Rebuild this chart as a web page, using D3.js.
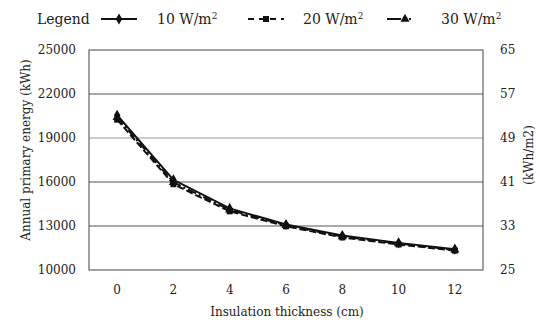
<!DOCTYPE html>
<html><head><meta charset="utf-8">
<script src="https://cdn.jsdelivr.net/npm/d3@7"></script>
<style>body{margin:0;background:#fff}svg{display:block}svg text{font-family:"DejaVu Serif",serif !important;fill:#222}</style>
</head><body><svg id="c" width="540" height="322"></svg>
<script>
const categories = ["0","2","4","6","8","10","12"];
const series10 = [20550, 16150, 14200, 13100, 12350, 11850, 11420];
const series20 = [20250, 15850, 14000, 12980, 12220, 11740, 11320];
const series30 = [20400, 15980, 14100, 13040, 12280, 11800, 11370];
const seriesNames = ["10 W/m", "20 W/m", "30 W/m"];
const leftTicks = [10000, 13000, 16000, 19000, 22000, 25000];
const rightTicks = [25, 33, 41, 49, 57, 65];

const svg = d3.select("#c");
const L = 89, R = 483, T = 50, B = 270;
const x = d3.scaleBand().domain(categories).range([L, R]).paddingInner(0).paddingOuter(0);
const y = d3.scaleLinear().domain([10000, 25000]).range([B, T]);
const y2 = d3.scaleLinear().domain([25, 65]).range([B, T]);

// gridlines
svg.append("g").selectAll("line").data(leftTicks.slice(1, -1)).join("line")
  .attr("x1", L).attr("x2", R).attr("y1", d => y(d)).attr("y2", d => y(d))
  .attr("stroke", d => d === 19000 ? "#999" : "#555").attr("stroke-width", 1);
// frame
svg.append("rect").attr("x", L).attr("y", T).attr("width", R - L).attr("height", B - T)
  .attr("fill", "none").attr("stroke", "#444").attr("stroke-width", 1);

// axes
const ax = svg.append("g").attr("transform", `translate(${L},0)`)
  .call(d3.axisLeft(y).tickValues(leftTicks).tickSize(0).tickPadding(13).tickFormat(d3.format("d")));
ax.select(".domain").remove();
ax.selectAll("text").attr("font-size", 12);
const ax2 = svg.append("g").attr("transform", `translate(${R},0)`)
  .call(d3.axisRight(y2).tickValues(rightTicks).tickSize(0).tickPadding(17));
ax2.select(".domain").remove();
ax2.selectAll("text").attr("font-size", 12);
const axx = svg.append("g").attr("transform", `translate(0,${B})`)
  .call(d3.axisBottom(x).tickSize(0).tickPadding(15));
axx.select(".domain").remove();
axx.selectAll("text").attr("font-size", 12);

// axis titles
svg.append("text").attr("transform", "translate(30,150) rotate(-90)").attr("text-anchor", "middle")
  .attr("font-size", 12).text("Annual primary energy (kWh)");
svg.append("text").attr("transform", "translate(533,155) rotate(-90)").attr("text-anchor", "middle")
  .attr("font-size", 12).text("(kWh/m2)");
svg.append("text").attr("x", 287).attr("y", 316).attr("text-anchor", "middle")
  .attr("font-size", 12).text("Insulation thickness (cm)");

const cx = d => x(d) + x.bandwidth() / 2;
const line = d3.line().x((d, i) => cx(categories[i])).y(d => y(d));
const defs = [
  {data: series10, dash: null, sym: d3.symbolDiamond, size: 36},
  {data: series20, dash: "7,3", sym: d3.symbolSquare, size: 36},
  {data: series30, dash: "9,3,2,3", sym: d3.symbolTriangle, size: 36}
];
defs.forEach(s => {
  svg.append("path").attr("d", line(s.data)).attr("fill", "none").attr("stroke", "#111")
    .attr("stroke-width", 2).attr("stroke-dasharray", s.dash);
  svg.append("g").selectAll("path").data(s.data).join("path")
    .attr("transform", (d, i) => `translate(${cx(categories[i])},${y(d)})`)
    .attr("d", d3.symbol().type(s.sym).size(s.size)).attr("fill", "#111");
});

// legend
const lg = svg.append("g");
lg.append("text").attr("x", 37).attr("y", 24).attr("font-size", 14).text("Legend");
const lx = [101, 248, 387], tx = [157, 303, 441];
defs.forEach((s, i) => {
  lg.append("line").attr("x1", lx[i]).attr("x2", lx[i] + 36).attr("y1", 19).attr("y2", 19)
    .attr("stroke", "#111").attr("stroke-width", 2).attr("stroke-dasharray", i === 0 ? null : (i === 1 ? "6,5" : "14,8,2,12"));
  lg.append("path").attr("transform", `translate(${lx[i] + 18},19)`)
    .attr("d", d3.symbol().type(s.sym).size(36)).attr("fill", "#111");
  const t = lg.append("text").attr("x", tx[i]).attr("y", 24).attr("font-size", 14);
  t.append("tspan").text(seriesNames[i]);
  t.append("tspan").attr("dy", -5).attr("font-size", 9).text("2");
});
</script></body></html>
